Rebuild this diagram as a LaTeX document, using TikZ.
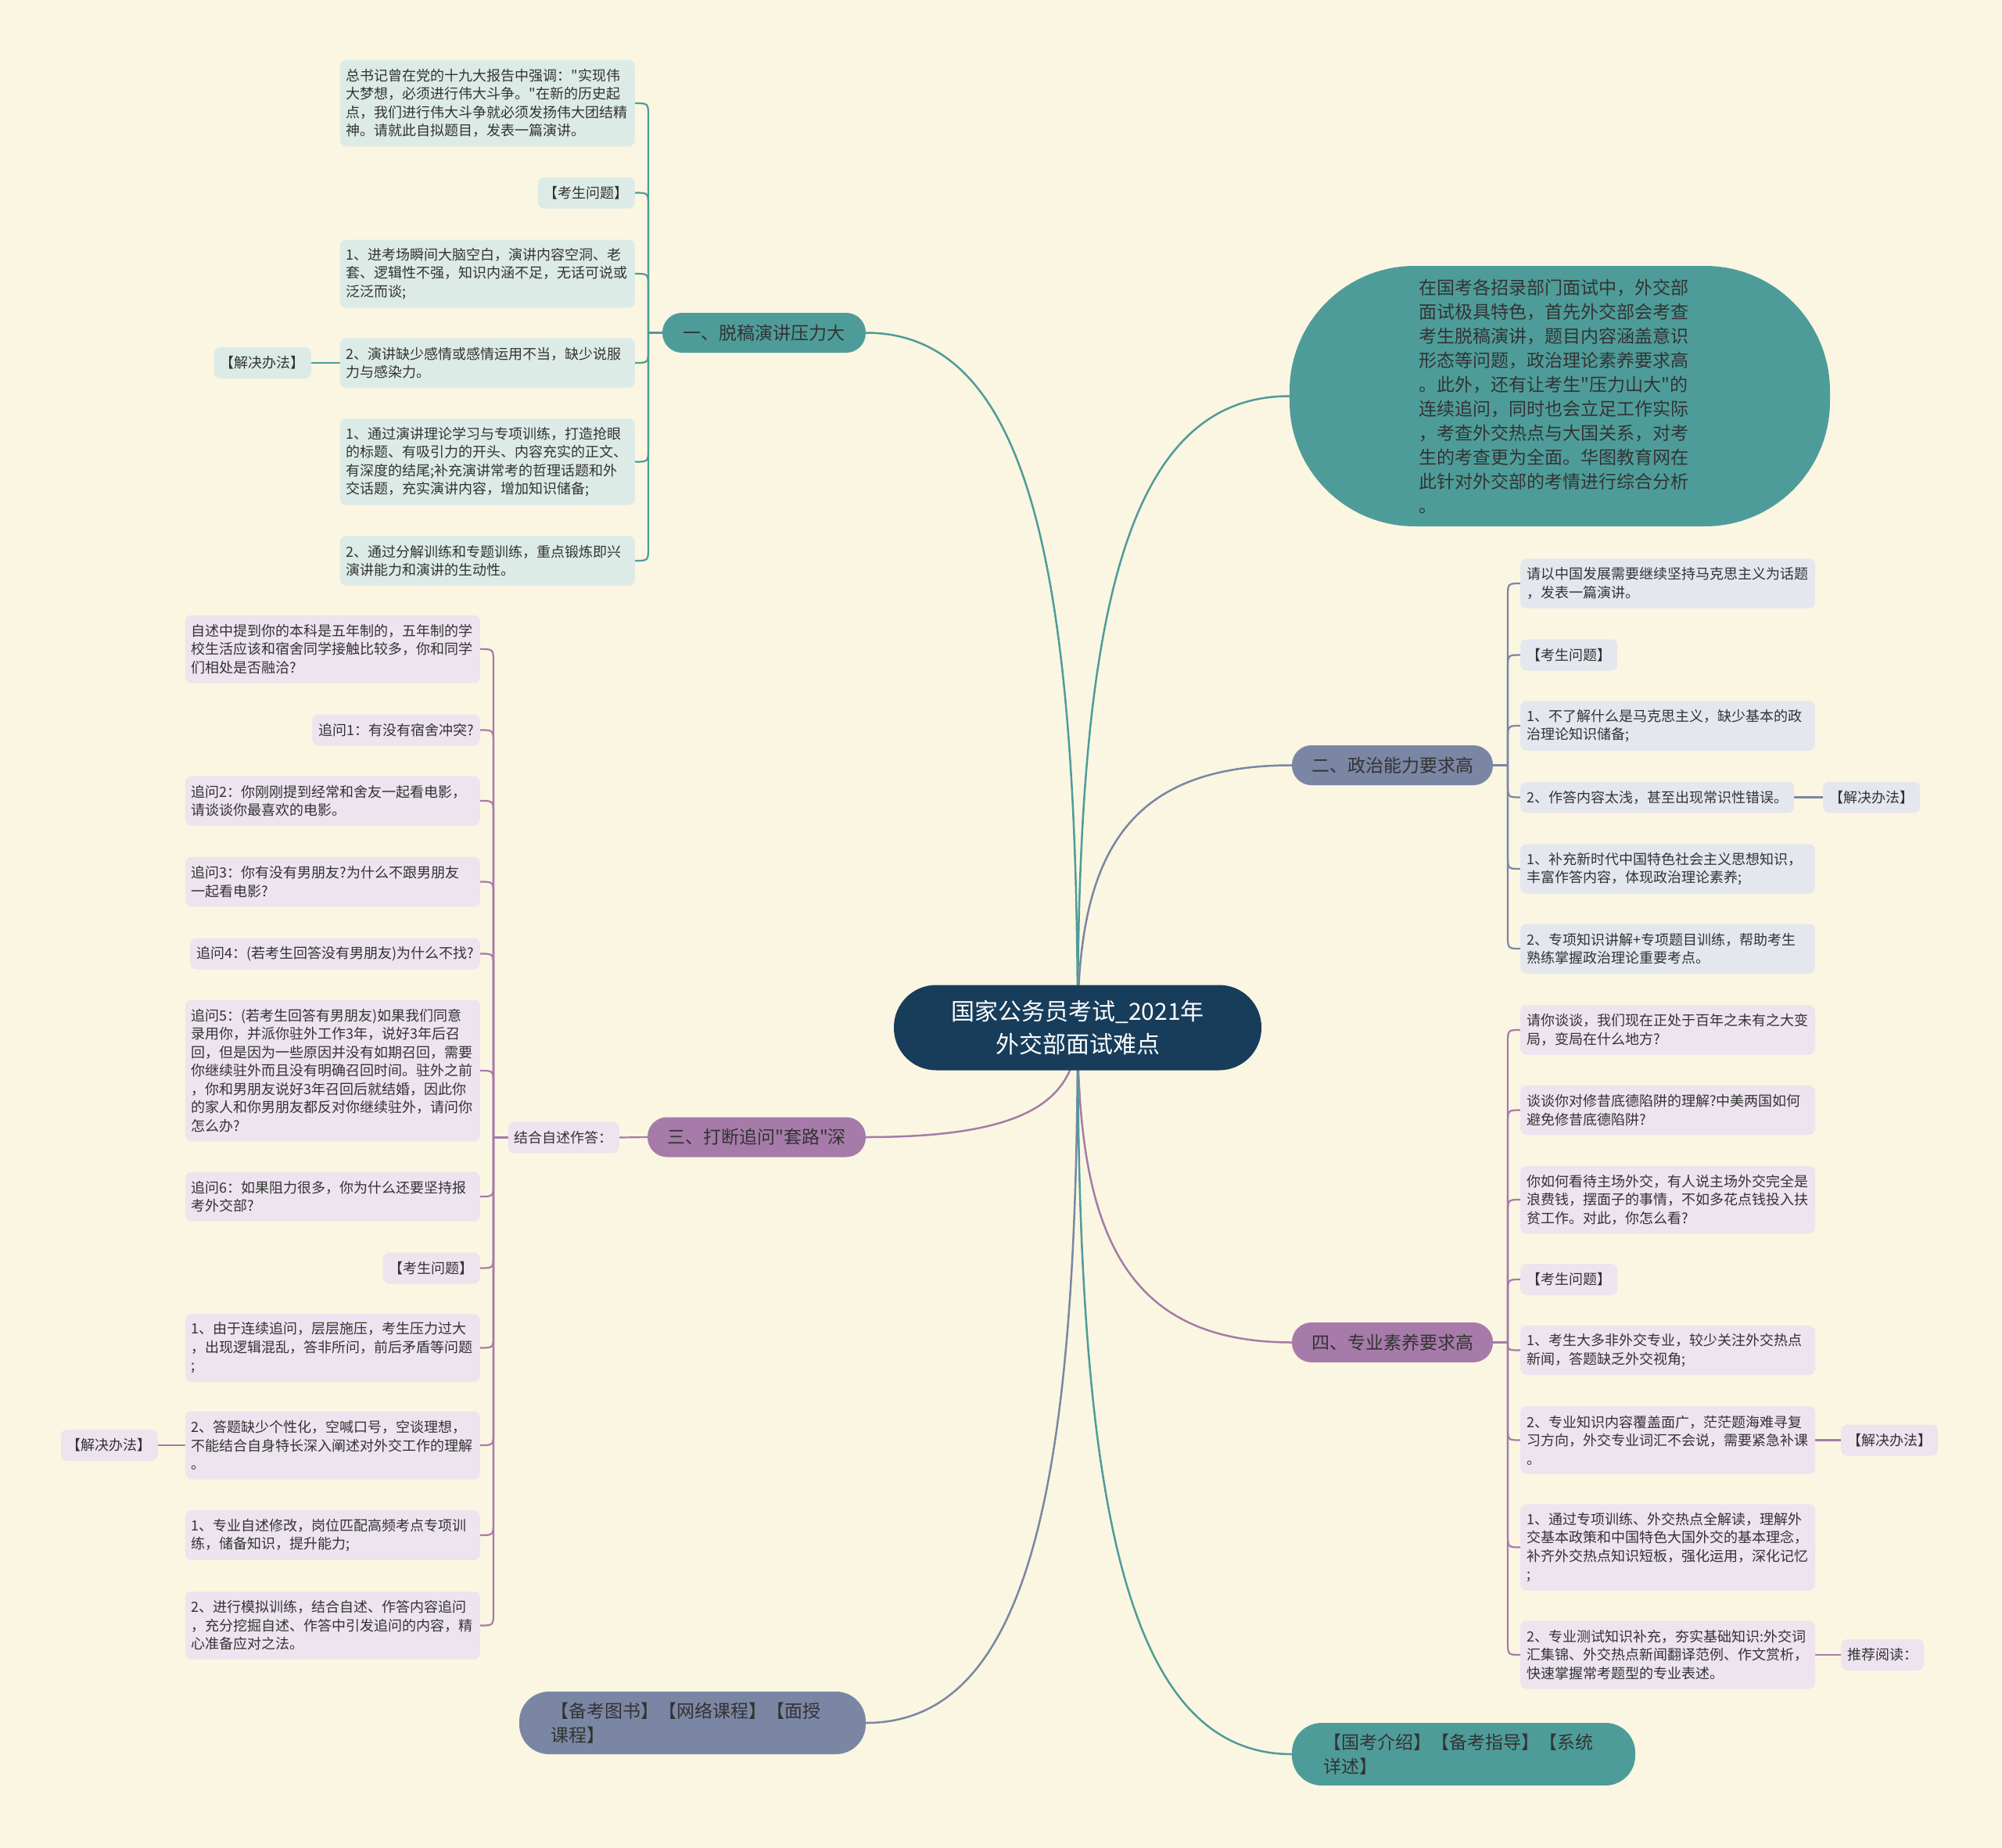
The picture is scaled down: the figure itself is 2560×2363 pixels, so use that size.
\documentclass[tikz,border=0pt]{standalone}
\usepackage{fontspec}
\setmainfont{Noto Sans CJK SC}[Ligatures=TeXOff]
\usetikzlibrary{calc,backgrounds}
\definecolor{bg}{HTML}{FBF6E1}
\definecolor{rootc}{HTML}{173D5B}
\definecolor{tealc}{HTML}{4E9C99}
\definecolor{tealL}{HTML}{DDEBE7}
\definecolor{gbc}{HTML}{7A86A4}
\definecolor{gbL}{HTML}{E4E7EE}
\definecolor{purc}{HTML}{A67BA9}
\definecolor{purL}{HTML}{EDE4EF}
\definecolor{txt}{HTML}{333333}
\newcommand\mmL[4]{\draw[#4] (#1) -- ($(#1 |- #2.east)+(0,#3)$) .. controls (#1 |- #2.east) .. (#2.east);}
\newcommand\mmR[4]{\draw[#4] (#1) -- ($(#1 |- #2.west)+(0,#3)$) .. controls (#1 |- #2.west) .. (#2.west);}
\tikzset{
  leaf/.style={rounded corners=8pt, inner xsep=8pt, inner ysep=2pt, align=left,
    text=txt, font=\fontsize{18}{23.5}\selectfont},
  wide/.style={text width=361pt},
  h1/.style={minimum height=40pt},
  h2/.style={minimum height=63.5pt},
  h3/.style={minimum height=87pt},
  h4/.style={minimum height=110.5pt},
  h7/.style={minimum height=181pt},
  tleaf/.style={leaf, fill=tealL},
  gleaf/.style={leaf, fill=gbL},
  pleaf/.style={leaf, fill=purL},
  topic/.style={rounded corners=25pt, minimum height=51pt, inner xsep=0pt, inner ysep=0pt,
    text=txt, font=\fontsize{23}{28}\selectfont},
  wtopic/.style={rounded corners=38pt, minimum height=80pt, inner sep=0pt, align=left,
    text=txt, font=\fontsize{23}{31}\selectfont},
  tline/.style={draw=tealc, line width=2.5pt},
  gline/.style={draw=gbc, line width=2.5pt},
  pline/.style={draw=purc, line width=2.5pt},
  tsub/.style={draw=tealc, line width=2.2pt},
  gsub/.style={draw=gbc, line width=2.2pt},
  psub/.style={draw=purc, line width=2.2pt},
}
\begin{document}
\begin{tikzpicture}[x=1pt,y=-1pt]
\begin{scope}[on background layer]
\fill[bg] (0,0) rectangle (2560,2363);
\end{scope}
\useasboundingbox (0,0) rectangle (2560,2363);

% root
\node[fill=rootc, rounded corners=54pt, minimum width=470pt, minimum height=109pt, inner sep=0pt,
  align=center, text=white, font=\fontsize{30}{42}\selectfont] (root) at (1378,1314)
  {国家公务员考试\_2021年\\外交部面试难点};

% topics
\node[topic, fill=tealc, minimum width=260pt] (n1) at (977,425.5) {一、脱稿演讲压力大};
\node[fill=tealc, rounded corners=160pt, minimum width=691pt, minimum height=333pt, inner sep=0pt,
  text width=350pt, align=left, text=txt, font=\fontsize{23}{31}\selectfont] (n5) at (1994.5,506.5)
  {\hspace*{-5pt}在国考各招录部门面试中，外交部\\\hspace*{-5pt}面试极具特色，首先外交部会考查\\\hspace*{-5pt}考生脱稿演讲，题目内容涵盖意识\\\hspace*{-5pt}形态等问题，政治理论素养要求高\\\hspace*{-5pt}。此外，还有让考生"压力山大"的\\\hspace*{-5pt}连续追问，同时也会立足工作实际\\\hspace*{-5pt}，考查外交热点与大国关系，对考\\\hspace*{-5pt}生的考查更为全面。华图教育网在\\\hspace*{-5pt}此针对外交部的考情进行综合分析\\\hspace*{-5pt}。};
\node[topic, fill=gbc, minimum width=257pt] (n2) at (1780.5,978.5) {二、政治能力要求高};
\node[topic, fill=purc, minimum width=279pt] (n3) at (967.5,1454) {三、打断追问"套路"深};
\node[topic, fill=purc, minimum width=257pt] (n4) at (1780.5,1716.5) {四、专业素养要求高};
\node[wtopic, fill=gbc, minimum width=443pt, text width=363pt] (n6) at (885.5,2203) {【备考图书】【网络课程】【面授\\课程】};
\node[wtopic, fill=tealc, minimum width=439pt, text width=359pt] (n7) at (1871.5,2243) {【国考介绍】【备考指导】【系统\\详述】};

% branch 1 leaves
\node[tleaf, wide, h4, anchor=east] (c1a) at (812,132) {总书记曾在党的十九大报告中强调："实现伟\\大梦想，必须进行伟大斗争。"在新的历史起\\点，我们进行伟大斗争就必须发扬伟大团结精\\神。请就此自拟题目，发表一篇演讲。};
\node[tleaf, h1, anchor=east] (c1b) at (812,246.5) {【考生问题】};
\node[tleaf, wide, h3, anchor=east] (c1c) at (812,350) {1、进考场瞬间大脑空白，演讲内容空洞、老\\套、逻辑性不强，知识内涵不足，无话可说或\\泛泛而谈;};
\node[tleaf, wide, h2, anchor=east] (c1d) at (812,464) {2、演讲缺少感情或感情运用不当，缺少说服\\力与感染力。};
\node[tleaf, wide, h4, anchor=east] (c1e) at (812,590.5) {1、通过演讲理论学习与专项训练，打造抢眼\\的标题、有吸引力的开头、内容充实的正文、\\有深度的结尾;补充演讲常考的哲理话题和外\\交话题，充实演讲内容，增加知识储备;};
\node[tleaf, wide, h2, anchor=east] (c1f) at (812,717) {2、通过分解训练和专题训练，重点锻炼即兴\\演讲能力和演讲的生动性。};
\node[tleaf, h1, anchor=east] (s1) at (398,464) {【解决办法】};
\coordinate (J1) at (829,425.5);

% branch 2 leaves
\node[gleaf, wide, h2, anchor=west] (c2a) at (1944,746) {请以中国发展需要继续坚持马克思主义为话题\\，发表一篇演讲。};
\node[gleaf, h1, anchor=west] (c2b) at (1944,837.5) {【考生问题】};
\node[gleaf, wide, h2, anchor=west] (c2c) at (1944,928) {1、不了解什么是马克思主义，缺少基本的政\\治理论知识储备;};
\node[gleaf, h1, anchor=west] (c2d) at (1944,1019.5) {2、作答内容太浅，甚至出现常识性错误。};
\node[gleaf, h1, anchor=west] (s2) at (2331,1019.5) {【解决办法】};
\node[gleaf, wide, h2, anchor=west] (c2e) at (1944,1111) {1、补充新时代中国特色社会主义思想知识，\\丰富作答内容，体现政治理论素养;};
\node[gleaf, wide, h2, anchor=west] (c2f) at (1944,1213) {2、专项知识讲解+专项题目训练，帮助考生\\熟练掌握政治理论重要考点。};
\coordinate (J2) at (1928,978.5);

% branch 3 leaves
\node[pleaf, h1, anchor=east] (k3) at (792,1454.5) {结合自述作答：};
\coordinate (J3) at (631,1454.5);
\node[pleaf, wide, h3, anchor=east] (c3a) at (614,830) {自述中提到你的本科是五年制的，五年制的学\\校生活应该和宿舍同学接触比较多，你和同学\\们相处是否融洽?};
\node[pleaf, h1, anchor=east] (c3b) at (614,933.5) {追问1：有没有宿舍冲突?};
\node[pleaf, wide, h2, anchor=east] (c3c) at (614,1024) {追问2：你刚刚提到经常和舍友一起看电影，\\请谈谈你最喜欢的电影。};
\node[pleaf, wide, h2, anchor=east] (c3d) at (614,1127.5) {追问3：你有没有男朋友?为什么不跟男朋友\\一起看电影?};
\node[pleaf, h1, anchor=east] (c3e) at (614,1219.5) {追问4：(若考生回答没有男朋友)为什么不找?};
\node[pleaf, wide, h7, anchor=east] (c3f) at (614,1369) {追问5：(若考生回答有男朋友)如果我们同意\\录用你，并派你驻外工作3年，说好3年后召\\回，但是因为一些原因并没有如期召回，需要\\你继续驻外而且没有明确召回时间。驻外之前\\，你和男朋友说好3年召回后就结婚，因此你\\的家人和你男朋友都反对你继续驻外，请问你\\怎么办?};
\node[pleaf, wide, h2, anchor=east] (c3g) at (614,1530) {追问6：如果阻力很多，你为什么还要坚持报\\考外交部?};
\node[pleaf, h1, anchor=east] (c3h) at (614,1621.5) {【考生问题】};
\node[pleaf, wide, h3, anchor=east] (c3i) at (614,1723.5) {1、由于连续追问，层层施压，考生压力过大\\，出现逻辑混乱，答非所问，前后矛盾等问题\\;};
\node[pleaf, wide, h3, anchor=east] (c3j) at (614,1848) {2、答题缺少个性化，空喊口号，空谈理想，\\不能结合自身特长深入阐述对外交工作的理解\\。};
\node[pleaf, h1, anchor=east] (s3) at (202,1848) {【解决办法】};
\node[pleaf, wide, h2, anchor=east] (c3k) at (614,1963) {1、专业自述修改，岗位匹配高频考点专项训\\练，储备知识，提升能力;};
\node[pleaf, wide, h3, anchor=east] (c3l) at (614,2078.5) {2、进行模拟训练，结合自述、作答内容追问\\，充分挖掘自述、作答中引发追问的内容，精\\心准备应对之法。};

% branch 4 leaves
\coordinate (J4) at (1928,1716.5);
\node[pleaf, wide, h2, anchor=west] (c4a) at (1944,1317) {请你谈谈，我们现在正处于百年之未有之大变\\局，变局在什么地方?};
\node[pleaf, wide, h2, anchor=west] (c4b) at (1944,1419.5) {谈谈你对修昔底德陷阱的理解?中美两国如何\\避免修昔底德陷阱?};
\node[pleaf, wide, h3, anchor=west] (c4c) at (1944,1534) {你如何看待主场外交，有人说主场外交完全是\\浪费钱，摆面子的事情，不如多花点钱投入扶\\贫工作。对此，你怎么看?};
\node[pleaf, h1, anchor=west] (c4d) at (1944,1636) {【考生问题】};
\node[pleaf, wide, h2, anchor=west] (c4e) at (1944,1726.5) {1、考生大多非外交专业，较少关注外交热点\\新闻，答题缺乏外交视角;};
\node[pleaf, wide, h3, anchor=west] (c4f) at (1944,1841.5) {2、专业知识内容覆盖面广，茫茫题海难寻复\\习方向，外交专业词汇不会说，需要紧急补课\\。};
\node[pleaf, h1, anchor=west] (s4) at (2354,1841.5) {【解决办法】};
\node[pleaf, wide, h4, anchor=west] (c4g) at (1944,1978.5) {1、通过专项训练、外交热点全解读，理解外\\交基本政策和中国特色大国外交的基本理念，\\补齐外交热点知识短板，强化运用，深化记忆\\;};
\node[pleaf, wide, h3, anchor=west] (c4h) at (1944,2116) {2、专业测试知识补充，夯实基础知识:外交词\\汇集锦、外交热点新闻翻译范例、作文赏析，\\快速掌握常考题型的专业表述。};
\node[pleaf, h1, anchor=west] (r4) at (2354,2116) {推荐阅读：};

\begin{scope}[on background layer]
% main curves
\draw[tline] (root.center) .. controls +(0,-577) and +(212,0) .. (n1.east);
\draw[tline] (root.center) .. controls +(0,-525) and +(-211,0) .. (n5.west);
\draw[gline] (root.center) .. controls +(0,-218) and +(-214,0) .. (n2.west);
\draw[pline] (root.center) .. controls +(0,91) and +(211,0) .. (n3.east);
\draw[pline] (root.center) .. controls +(0,262) and +(-214,0) .. (n4.west);
\draw[gline] (root.center) .. controls +(0,578) and +(211,0) .. (n6.east);
\draw[tline] (root.center) .. controls +(0,604) and +(-214,0) .. (n7.west);
% branch 1
\draw[tsub] (n1.west) -- (J1);
\mmL{J1}{c1a}{18}{tsub}
\mmL{J1}{c1b}{18}{tsub}
\mmL{J1}{c1c}{18}{tsub}
\mmL{J1}{c1d}{-18}{tsub}
\mmL{J1}{c1e}{-18}{tsub}
\mmL{J1}{c1f}{-18}{tsub}
\draw[tsub] (c1d.west) -- (s1.east);
% branch 2
\draw[gsub] (n2.east) -- (J2);
\mmR{J2}{c2a}{18}{gsub}
\mmR{J2}{c2b}{18}{gsub}
\mmR{J2}{c2c}{18}{gsub}
\mmR{J2}{c2d}{-18}{gsub}
\mmR{J2}{c2e}{-18}{gsub}
\mmR{J2}{c2f}{-18}{gsub}
\draw[gsub] (c2d.east) -- (s2.west);
% branch 3
\draw[psub] (n3.west) -- (k3.east);
\draw[psub] (k3.west) -- (J3);
\mmL{J3}{c3a}{18}{psub}
\mmL{J3}{c3b}{18}{psub}
\mmL{J3}{c3c}{18}{psub}
\mmL{J3}{c3d}{18}{psub}
\mmL{J3}{c3e}{18}{psub}
\mmL{J3}{c3f}{18}{psub}
\mmL{J3}{c3g}{-18}{psub}
\mmL{J3}{c3h}{-18}{psub}
\mmL{J3}{c3i}{-18}{psub}
\mmL{J3}{c3j}{-18}{psub}
\mmL{J3}{c3k}{-18}{psub}
\mmL{J3}{c3l}{-18}{psub}
\draw[psub] (c3j.west) -- (s3.east);
% branch 4
\draw[psub] (n4.east) -- (J4);
\mmR{J4}{c4a}{18}{psub}
\mmR{J4}{c4b}{18}{psub}
\mmR{J4}{c4c}{18}{psub}
\mmR{J4}{c4d}{18}{psub}
\mmR{J4}{c4e}{-10}{psub}
\mmR{J4}{c4f}{-18}{psub}
\mmR{J4}{c4g}{-18}{psub}
\mmR{J4}{c4h}{-18}{psub}
\draw[psub] (c4f.east) -- (s4.west);
\draw[psub] (c4h.east) -- (r4.west);
\end{scope}
\end{tikzpicture}
\end{document}
